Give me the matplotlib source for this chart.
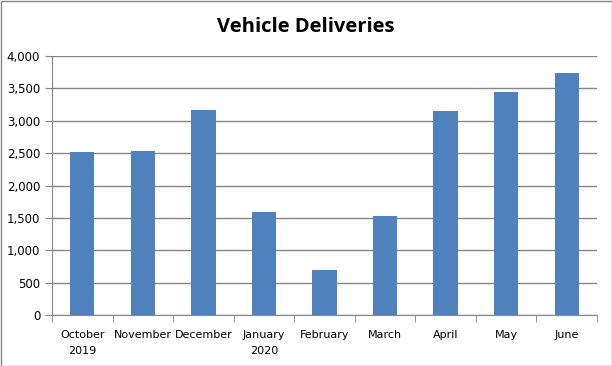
import matplotlib.pyplot as plt
import numpy as np
from matplotlib.patches import Rectangle

categories = ["October\n2019", "November", "December", "January\n2020", "February",
              "March", "April", "May", "June"]
deliveries = [2515, 2530, 3160, 1590, 694, 1528, 3148, 3441, 3735]
yticks = [0, 500, 1000, 1500, 2000, 2500, 3000, 3500, 4000]

W, H = 612, 366
fig = plt.figure(figsize=(W/100, H/100), dpi=100)
ax = fig.add_axes([52/W, 1-315/H, (597-52)/W, (315-56)/H])

x = np.arange(len(categories))
ax.bar(x, deliveries, width=0.4, color="#4f81bd", zorder=3)
ax.set_xlim(-0.5, len(categories)-0.5)
ax.set_ylim(0, 4000)
ax.set_yticks(yticks)
ax.set_yticklabels([f"{v:,}" for v in yticks])
ax.yaxis.grid(True, color="#868686", linewidth=1, zorder=0)
for s in ["top", "right"]:
    ax.spines[s].set_visible(False)
for s in ["left", "bottom"]:
    ax.spines[s].set_color("#868686")
ax.set_xticks(x)
ax.set_xticklabels(categories, fontsize=8, family="DejaVu Sans")
ax.tick_params(axis="x", length=0, pad=11)
ax.set_xticks(np.arange(len(categories)+1)-0.5, minor=True)
ax.tick_params(axis="x", which="minor", length=5, color="#868686")
ax.tick_params(axis="y", length=5, color="#868686", labelsize=8.5)
for t in ax.get_xticklabels():
    t.set_linespacing(1.75)

fig.text(0.5, 1-27/H, "Vehicle Deliveries", ha="center", va="center",
         fontsize=14.5, fontweight="bold", family="Open Sans")
fig.add_artist(Rectangle((0.5/W, 0.5/H), 1-1/W, 1-1/H, transform=fig.transFigure,
                         fill=False, edgecolor="#868686", linewidth=1))
fig.savefig("out.png", dpi=100)
